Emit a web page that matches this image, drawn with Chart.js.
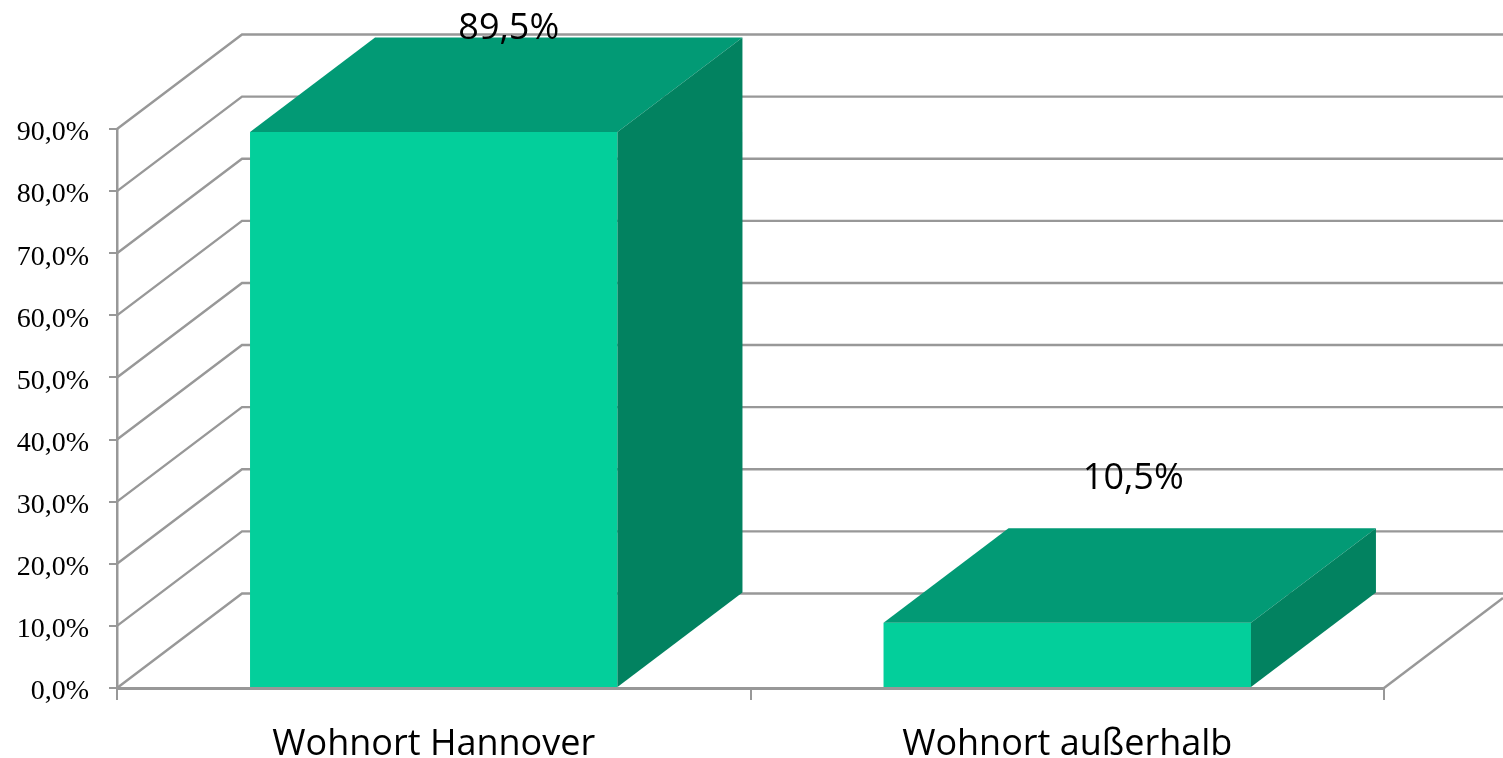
<!DOCTYPE html>
<html>
<head>
<meta charset="utf-8">
<style>
html,body{margin:0;padding:0;background:#fff;overflow:hidden}
#wrap{width:1503px;height:758px;position:relative}
</style>
<script src="https://cdn.jsdelivr.net/npm/chart.js@4"></script>
</head>
<body>
<div id="wrap"><canvas id="c" width="1503" height="758"></canvas></div>
<script>
const categories = ["Wohnort Hannover", "Wohnort außerhalb"];
const values = [89.5, 10.5];
const valueLabels = ["89,5%", "10,5%"];
const yMin = 0, yMax = 90, yStep = 10;

const GRID = "#989898";
const FRONT = "#03cf9b", TOP = "#029a75", SIDE = "#028260";
const DX = 125, DY = -94.5;
const labelShift = [[75, 103], [66, 144]];

const depthPlugin = {
  id: "depth",
  beforeDatasetsDraw(chart) {
    const { ctx, scales: { x, y } } = chart;
    ctx.save();
    ctx.strokeStyle = GRID;
    ctx.lineWidth = 2.4;
    for (const t of y.ticks) {
      const py = y.getPixelForValue(t.value);
      ctx.beginPath();
      ctx.moveTo(x.left, py);
      ctx.lineTo(x.left + DX, py + DY);
      ctx.lineTo(chart.width, py + DY);
      ctx.stroke();
    }
    const b = y.getPixelForValue(yMin);
    ctx.beginPath();
    ctx.moveTo(x.right, b);
    ctx.lineTo(chart.width, b + DY * (chart.width - x.right) / DX);
    ctx.stroke();
    ctx.restore();
  },
  afterDatasetsDraw(chart) {
    const { ctx } = chart;
    const meta = chart.getDatasetMeta(0);
    ctx.save();
    meta.data.forEach((bar, i) => {
      const l = bar.x - bar.width / 2, r = bar.x + bar.width / 2, t = bar.y, b = bar.base;
      ctx.fillStyle = TOP;
      ctx.beginPath();
      ctx.moveTo(l, t);
      ctx.lineTo(l + DX, t + DY);
      ctx.lineTo(r + DX, t + DY);
      ctx.lineTo(r, t);
      ctx.closePath();
      ctx.fill();
      ctx.fillStyle = SIDE;
      ctx.beginPath();
      ctx.moveTo(r, t);
      ctx.lineTo(r + DX, t + DY);
      ctx.lineTo(r + DX, b + DY);
      ctx.lineTo(r, b);
      ctx.closePath();
      ctx.fill();
      ctx.fillStyle = "#000";
      ctx.font = "36px 'Open Sans'";
      ctx.textAlign = "center";
      ctx.textBaseline = "middle";
      ctx.fillText(valueLabels[i], bar.x + labelShift[i][0], t - labelShift[i][1]);
    });
    ctx.restore();
  }
};

new Chart(document.getElementById("c"), {
  type: "bar",
  data: {
    labels: categories,
    datasets: [{
      data: values,
      backgroundColor: FRONT,
      borderWidth: 0,
      barPercentage: 0.58,
      categoryPercentage: 1
    }]
  },
  options: {
    responsive: false,
    animation: false,
    layout: { padding: { left: 0, top: 129, right: 119, bottom: 0 } },
    plugins: { legend: { display: false }, tooltip: { enabled: false } },
    scales: {
      x: {
        afterFit(s) { s.height = 70; },
        grid: { display: true, drawOnChartArea: false, color: GRID, lineWidth: 2, tickLength: 12 },
        border: { color: GRID, width: 3 },
        ticks: { color: "#000", font: { family: "'Open Sans'", size: 36 }, padding: 23, maxRotation: 0 }
      },
      y: {
        min: yMin, max: yMax,
        afterFit(s) { s.width = 117; },
        grid: { display: true, drawOnChartArea: false, color: GRID, lineWidth: 2, tickLength: 8 },
        border: { color: GRID, width: 2.5 },
        ticks: {
          stepSize: yStep, color: "#000", padding: 20, labelOffset: 4,
          font: { family: "'Liberation Serif'", size: 28 },
          callback: v => v.toFixed(1).replace(".", ",") + "%"
        }
      }
    }
  },
  plugins: [depthPlugin]
});
</script>
</body>
</html>
